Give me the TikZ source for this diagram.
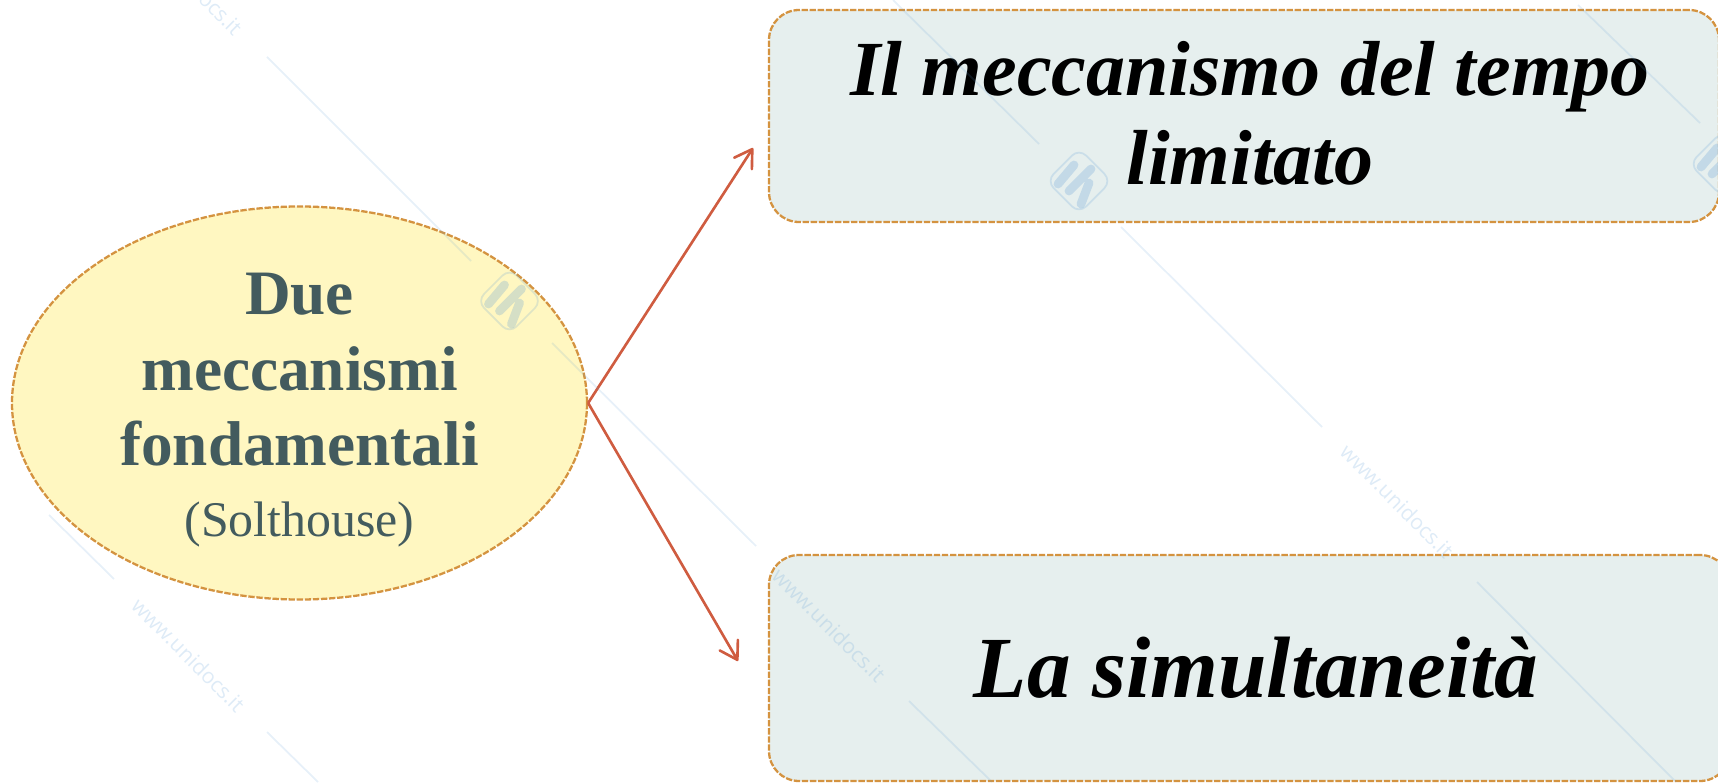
\documentclass[tikz,border=0pt]{standalone}
\usepackage{fontspec}
\setmainfont{Liberation Serif}
\newfontfamily\wmfont{Open Sans}
\usetikzlibrary{arrows.meta,shapes.geometric}
\definecolor{dueback}{HTML}{FFF7C1}
\definecolor{duetext}{HTML}{435B5E}
\definecolor{boxback}{HTML}{E6EFEE}
\definecolor{dashline}{HTML}{D49340}
\definecolor{arrowline}{HTML}{CF5C40}
\definecolor{wmblue}{HTML}{5B9BD5}
\tikzset{
  dashborder/.style={draw=dashline,line width=0.65pt,dash pattern=on 1.8pt off 0.5pt},
  duestyle/.style={dashborder,ellipse,fill=dueback,inner sep=0pt,minimum width=5.75cm,minimum height=3.93cm},
  duelabel/.style={text=duetext,inner sep=0pt,align=center,font=\fontsize{18}{21.6}\selectfont\bfseries},
  boxstyle/.style={dashborder,rectangle,rounded corners=0.3cm,fill=boxback,text=black,inner sep=0pt,align=center},
  arrowstyle/.style={-{Straight Barb[length=1.7mm,width=2.1mm,round]},draw=arrowline,line width=0.75pt},
  wmline/.style={draw=wmblue,opacity=0.15,line width=0.5pt},
  wmtext/.style={text=wmblue,opacity=0.2,rotate=-45,inner sep=0pt,font=\wmfont\fontsize{6}{7}\selectfont},
  wmlogo/.style={draw=wmblue,opacity=0.2,line width=0.5pt,rounded corners=0.1cm},
  wmstroke/.style={draw=wmblue,opacity=0.25,line width=2.5pt,line cap=round}
}
\begin{document}
\begin{tikzpicture}
  \useasboundingbox (0,0) rectangle (17.18,7.82);
  \node (due) [duestyle] at (2.995,3.79) {};
  \node (duename) [duelabel] at (2.995,3.72) {Due\\meccanismi\\fondamentali\\[-1.5pt]{\fontsize{14.2}{18}\selectfont\mdseries (Solthouse)}};
  \node (limitato) [boxstyle,minimum width=9.5cm,minimum height=2.12cm,font=\fontsize{22.2}{25.5}\selectfont\bfseries\itshape] at (12.44,6.66) {\hspace{0.12cm}Il meccanismo del tempo\\\hspace{0.12cm}limitato\rule[-0.06cm]{0pt}{0pt}};
  \node (simult) [boxstyle,minimum width=9.61cm,minimum height=2.26cm,font=\fontsize{24.8}{28}\selectfont\bfseries\itshape] at (12.495,1.14) {\hspace{0.13cm}La simultaneità};
  \coordinate (tiplim) at (7.53,6.34);
  \coordinate (tipsim) at (7.38,1.21);
  \draw[arrowstyle] (due.east) -- (tiplim);
  \draw[arrowstyle] (due.east) -- (tipsim);
  \foreach \xa/\ya/\xb/\yb in {2.67/7.25/4.71/5.21,5.52/4.39/7.56/2.36,8.93/7.82/10.39/6.38,11.21/5.55/13.22/3.55,15.78/7.77/17.0/6.59,0.49/2.67/1.14/2.03,14.77/2.0/16.76/0,9.09/0.81/9.92/0,2.67/0.5/3.18/0}
    \draw[wmline] (\xa,\ya) -- (\xb,\yb);
  \foreach \x/\y/\n in {1.885/1.27/a,8.29/1.57/b,13.97/2.81/c,1.86/8.04/d}
    \node (wm\n) [wmtext] at (\x,\y) {www.unidocs.it};
  \foreach \x/\y in {5.095/4.81,10.79/6.01,17.22/6.18} {
    \begin{scope}[shift={(\x,\y)}]
      \draw[wmlogo] (0,0.325) -- (0.325,0) -- (0,-0.325) -- (-0.325,0) -- cycle;
      \draw[wmstroke] (-0.05,0.16) -- (-0.21,-0.03) (0.12,0.12) -- (-0.10,-0.10) (0.10,-0.02) -- (0.02,-0.23);
    \end{scope}
  }
\end{tikzpicture}
\end{document}
